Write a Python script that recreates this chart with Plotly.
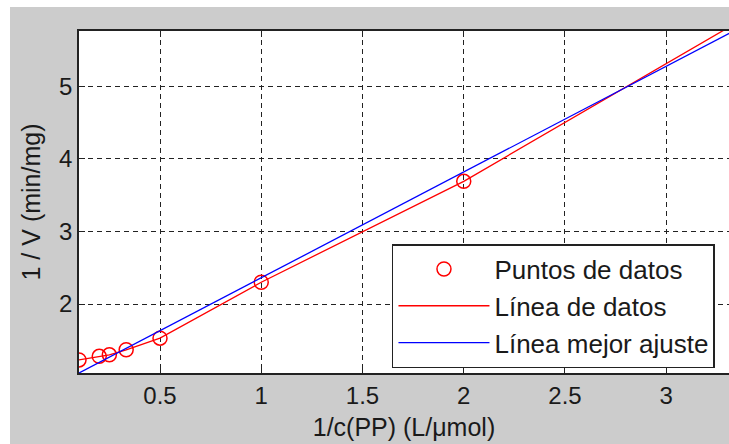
import plotly.graph_objects as go

# Data
x_datos = [0.1, 0.2, 0.25, 0.333, 0.5, 1.0, 2.0, 3.333]
y_datos = [1.23, 1.28, 1.30, 1.37, 1.53, 2.30, 3.69, 5.85]
x_ajuste = [0.1, 3.333]
y_ajuste = [1.05, 5.76]

x_ticks = [0.5, 1, 1.5, 2, 2.5, 3]
y_ticks = [2, 3, 4, 5]

FONT = "Liberation Sans, Arial, sans-serif"
TXT = "#1a1a1a"

fig = go.Figure()
fig.add_trace(go.Scatter(x=x_datos, y=y_datos, mode="markers", name="Puntos de datos",
                         marker=dict(symbol="circle-open", size=14, color="red",
                                     line=dict(width=1.5, color="red"))))
fig.add_trace(go.Scatter(x=x_datos, y=y_datos, mode="lines", name="Línea de datos",
                         line=dict(color="red", width=1.3)))
fig.add_trace(go.Scatter(x=x_ajuste, y=y_ajuste, mode="lines", name="Línea mejor ajuste",
                         line=dict(color="blue", width=1.3)))

axis_common = dict(showgrid=True, gridcolor="#222222", griddash="5px,4px", gridwidth=1,
                   showline=True, linecolor="#222222", linewidth=1.5,
                   ticks="inside", ticklen=6, tickcolor="#222222",
                   tickfont=dict(family=FONT, size=24, color=TXT),
                   zeroline=False)

fig.update_layout(
    width=729, height=444,
    margin=dict(l=79, r=0, t=31, b=71),
    paper_bgcolor="#cccccc", plot_bgcolor="white",
    font=dict(family=FONT, color=TXT),
    xaxis=dict(range=[0.1, 3.31], tickvals=x_ticks, ticktext=[str(v) for v in x_ticks],
               mirror="ticks",
               title=dict(text="1/c(PP) (L/μmol)", font=dict(family=FONT, size=25, color=TXT),
                          standoff=11),
               **axis_common),
    yaxis=dict(range=[1.05, 5.76], tickvals=y_ticks, ticktext=[str(v) for v in y_ticks],
               title=dict(text="1 / V (min/mg)", font=dict(family=FONT, size=25, color=TXT),
                          standoff=11),
               **axis_common),
    legend=dict(x=0.4815, y=0.377, xanchor="left", yanchor="top",
                bgcolor="white", bordercolor="#222222", borderwidth=1.5,
                font=dict(family=FONT, size=26, color=TXT),
                itemwidth=91, tracegroupgap=0),
    showlegend=True,
    shapes=[
        dict(type="rect", xref="paper", yref="paper", x0=-0.13, x1=-0.10615,
             y0=-0.25, y1=1.1, fillcolor="white", line=dict(width=0), layer="above"),
        dict(type="rect", xref="paper", yref="paper", x0=-0.13, x1=1.01,
             y0=1.0702, y1=1.1, fillcolor="white", line=dict(width=0), layer="above"),
    ],
)

fig.write_html("out.html", config={"displayModeBar": False},
               post_script="document.body.style.margin='0';document.body.style.overflow='hidden';")
